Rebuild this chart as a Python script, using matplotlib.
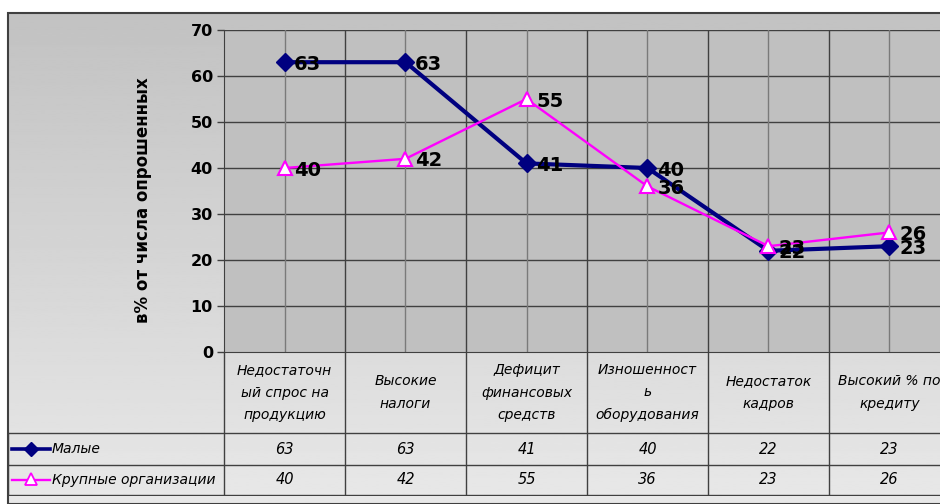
import numpy as np
import matplotlib
matplotlib.use("Agg")
import matplotlib.pyplot as plt
from matplotlib.patches import Rectangle

# Survey data: share of respondents naming each obstacle
categories = [
    "Недостаточн\nый спрос на\nпродукцию",
    "Высокие\nналоги",
    "Дефицит\nфинансовых\nсредств",
    "Изношенност\nь\nоборудования",
    "Недостаток\nкадров",
    "Высокий % по\nкредиту",
]
small = [63, 63, 41, 40, 22, 23]
large = [40, 42, 55, 36, 23, 26]
series_names = ["Малые", "Крупные организации"]
y_label = "в% от числа опрошенных"
y_ticks = [0, 10, 20, 30, 40, 50, 60, 70]

W, H = 940, 504
NAVY = "#000080"
MAGENTA = "#FF00FF"
GRID = "#404040"

plt.rcParams["font.family"] = ["DejaVu Sans"]

fig = plt.figure(figsize=(W / 100, H / 100), dpi=100)
fig.patch.set_facecolor("white")


def px(x0, y0, x1, y1):
    # pixel box (top-left origin) -> figure fraction rect
    return [x0 / W, 1 - y1 / H, (x1 - x0) / W, (y1 - y0) / H]


# chart area with soft vertical gradient
bg = fig.add_axes(px(8, 13, 960, 504), zorder=0)
grad = np.linspace(0.76, 0.91, 256).reshape(-1, 1)
bg.imshow(grad, cmap="gray", vmin=0, vmax=1, aspect="auto", extent=[0, 1, 0, 1])
bg.set_axis_off()
fig.patches.append(Rectangle((8 / W, 0), 1, 1 - 13 / H, transform=fig.transFigure,
                             fill=False, edgecolor="#404040", lw=1.5, zorder=5))

# plot area
ax = fig.add_axes(px(224, 30, 950, 352), zorder=2)
ax.set_facecolor("#C0C0C0")
n = len(categories)
ax.set_xlim(0, n)
ax.set_ylim(0, 70)
xs = np.arange(n) + 0.5

for y in y_ticks[1:]:
    ax.axhline(y, color=GRID, lw=1, zorder=1)
for b in range(1, n + 1):
    ax.axvline(b, color=GRID, lw=1, zorder=1)
for c in xs:
    ax.axvline(c, color="#7A7A7A", lw=1, zorder=1)

ax.plot(xs, small, color=NAVY, lw=3.0, marker="D", ms=9.5, mfc=NAVY, mec=NAVY, zorder=4)
ax.plot(xs, large, color=MAGENTA, lw=1.7, marker="^", ms=9.5, mfc="white", mec=MAGENTA,
        mew=1.5, zorder=5)

for vals in (small, large):
    for c, v in zip(xs, vals):
        ax.annotate(str(v), (c, v), xytext=(7, -1.5), textcoords="offset points",
                    ha="left", va="center", fontsize=14, fontweight="bold",
                    color="black", zorder=6)

ax.set_yticks(y_ticks)
ax.set_yticklabels([str(t) for t in y_ticks], fontsize=11.5, fontweight="bold")
ax.set_xticks([])
ax.tick_params(axis="y", direction="out", length=5, width=1, color=GRID, pad=3)
for s in ["top", "right"]:
    ax.spines[s].set_visible(False)
ax.spines["left"].set_color(GRID)
ax.spines["bottom"].set_color(GRID)

fig.text(143 / W, 1 - 200 / H, y_label, rotation=90, ha="center", va="center",
         fontsize=12, fontweight="bold")

# data table under the plot, columns aligned with the categories
tax = fig.add_axes(px(8, 352, 950, 496), zorder=3)
tax.set_xlim((8 - 224) / 121, n)
tax.set_ylim(144, 0)
tax.set_axis_off()
row_top, row1, row2, row_bot = 0, 81, 113, 143
left = (8 - 224) / 121

for b in range(0, n + 1):
    tax.plot([b, b], [row_top, row_bot], color=GRID, lw=1)
for y in (row1, row2, row_bot):
    tax.plot([left, n], [y, y], color=GRID, lw=1)
tax.plot([left, left], [row1, row_bot], color=GRID, lw=1)

for c, lab in zip(xs, categories):
    tax.text(c, (row_top + row1) / 2, lab, ha="center", va="center", fontsize=10,
             style="italic", linespacing=1.8, color="black")
for c, v in zip(xs, small):
    tax.text(c, (row1 + row2) / 2, str(v), ha="center", va="center", fontsize=10.5,
             style="italic")
for c, v in zip(xs, large):
    tax.text(c, (row2 + row_bot) / 2, str(v), ha="center", va="center", fontsize=10.5,
             style="italic")

# legend keys inside the table rows
kx0, kx1, kxm = (12 - 224) / 121, (50 - 224) / 121, (31 - 224) / 121
ty = (52 - 224) / 121
y1 = (row1 + row2) / 2
y2 = (row2 + row_bot) / 2
tax.plot([kx0, kx1], [y1, y1], color=NAVY, lw=2.6)
tax.plot([kxm], [y1], marker="D", ms=7, color=NAVY)
tax.plot([kx0, kx1], [y2, y2], color=MAGENTA, lw=1.7)
tax.plot([kxm], [y2 - 1], marker="^", ms=8, mfc="white", mec=MAGENTA, mew=1.3)
tax.text(ty, y1, series_names[0], ha="left", va="center", fontsize=10, style="italic")
tax.text(ty, y2, series_names[1], ha="left", va="center", fontsize=10, style="italic")

fig.savefig("out.png", dpi=100)
